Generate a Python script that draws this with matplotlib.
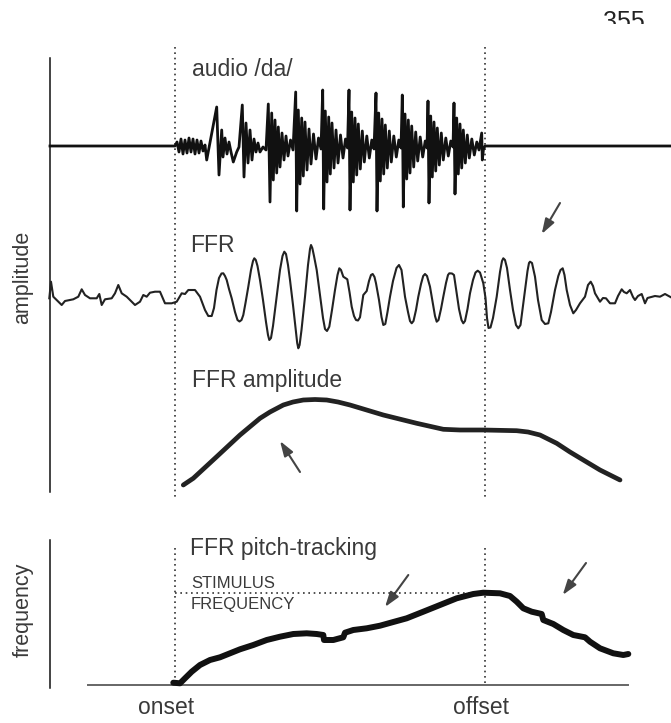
import matplotlib
matplotlib.use("Agg")
import matplotlib.pyplot as plt

plt.rcParams['font.family'] = ['Liberation Sans', 'DejaVu Sans']

# time in samples from stimulus onset, amplitudes in arbitrary units
onset, offset = 0, 310
t_min, t_max = -175, 496

audio_t = [-125, 0, 2, 4, 6, 8, 10, 12, 14, 16, 18, 20, 22, 24, 26, 28, 30, 31.7,
           41.7, 44, 46.7, 48, 50, 52, 54, 56, 58.3, 61.7, 64,
           67.3, 69, 71, 73, 75, 77, 79, 81, 83, 85, 88, 91,
           93.3, 95, 96.7, 98.3, 100, 101.7, 103.3, 105, 107, 109, 111, 113, 115.5, 118,
           120.7, 121.7, 123.3, 125, 126.7, 128.3, 130, 132, 134, 136, 138.5, 141, 143.5, 146,
           147.7, 148.7, 150.3, 152, 153.7, 155.3, 157, 159, 161, 163, 165.5, 168, 170.5, 172.5,
           174, 175, 176.7, 178.3, 180, 181.7, 183.3, 185.3, 187.3, 189.3, 191.8, 194.3, 196.8, 199,
           201, 202, 203.7, 205.3, 207, 208.7, 210.3, 212.3, 214.3, 216.3, 218.8, 221.3, 223.8, 226,
           227.3, 228.3, 230, 231.7, 233.3, 235, 236.7, 238.7, 240.7, 242.7, 245.2, 247.7, 250.2, 252,
           253, 254, 255.7, 257.3, 259, 260.7, 262.3, 264.3, 266.3, 268.3, 270.8, 273.3, 275.8, 278,
           279, 280, 281.7, 283.3, 285, 286.7, 288.3, 290.3, 292.3, 294.3, 296.8, 299.3, 301.8, 304,
           306.7, 307.3, 308.5, 310, 496]
audio_a = [0, 0, 4, -6, 7, -8, 6, -7, 8, -6, 7, -8, 6, -7, 5, -5, 1, -14,
           39, -29, 16, -11, 8, -8, 4, -6, -16, -6, -1,
           41, -31, 23, -17, 16, -14, 7, -6, 3, -6, -1, -4,
           42, -56, 33, -34, 26, -27, 19, -21, 13, -14, 10, -10, 6, -4,
           54, -65, 36, -38, 28, -30, 24, -24, 17, -18, 12, -13, 8, -3,
           56, -63, 35, -36, 29, -28, 23, -22, 16, -17, 11, -12, 7, -2,
           56, -64, 34, -36, 28, -29, 22, -23, 15, -16, 10, -12, 6, -3,
           53, -65, 33, -35, 27, -28, 21, -22, 15, -16, 10, -11, 6, -2,
           51, -61, 32, -33, 26, -27, 20, -21, 14, -15, 9, -11, 5, -2,
           45, -57, 30, -31, 24, -25, 18, -19, 13, -14, 8, -10, 5, -1,
           43, -48, 28, -28, 22, -22, 16, -17, 11, -12, 7, -9, 4, -4,
           13, -14, -3, 0, 0]

ffr_t = [-125.7, -124, -121.7, -118.3, -113.3, -110, -101.7, -96.7, -93.3, -90, -85, -78.3,
         -75.7, -73.3, -70, -63.3, -60, -56.7, -53.3, -48.3, -43.3, -40, -35, -31.7, -28.3,
         -25, -20, -15, -10, -3.3, 1.7, 6.7, 10, 13.3, 20, 25, 30, 33.3, 36.7,
         39, 41.5, 44, 46.5, 48.3, 50, 51.7, 54, 56.7, 60, 62.5, 64.5, 66.5, 68.3, 70.5,
         73.3, 76, 78, 79.3, 80.8, 82.5, 85, 88, 91, 93, 94.3, 96, 98, 101.7, 105, 107.5,
         109.3, 111, 113, 115, 118, 120.5, 122.2, 123.3, 124.6, 126.5, 130, 133, 135, 136,
         137.3, 139, 141.7, 145, 148, 150, 152, 154.3, 157, 160, 162.5, 164.3, 166, 168.3,
         172.3, 174.5, 176.7, 179, 181, 183, 185, 188.3, 191.7, 194, 196, 197.7, 199.5, 201,
         204, 206.5, 208.3, 210.3, 212.5, 215, 218, 221.5, 224, 226.5, 230, 233, 235, 236.7,
         238.5, 241, 243.3, 246, 248.2, 250, 252, 255, 258, 260, 261.7, 263.5, 266, 268.3,
         271, 273, 274.3, 277, 279, 281.7, 284, 286.5, 288.3, 290, 292.5, 295, 298, 300.5,
         302.7, 305, 308.3, 310.5, 312, 313.5, 315.5, 318, 321.7, 325, 327, 328.3, 330, 332,
         335, 338, 341, 343.3, 345.5, 348, 350, 352.5, 354, 355, 357, 360, 363, 366.7, 370,
         373.3, 376, 380, 383.3, 385.5, 387.7, 389.5, 391.7, 395, 398.3, 401, 405, 410, 413,
         415.7, 418, 420, 425, 428, 431, 435, 440, 443, 446.7, 449, 451.7, 455, 458, 460,
         463, 466.7, 470, 472.5, 475, 480, 485, 490, 496]
ffr_a = [-0.3, 16.3, 1.3, -2, -7, -3, -1.3, 1.3, 8.7, 3, -0.3, -0.3,
         4, -7, -1.3, -0.3, 4.7, 13, 4.7, 1.3, -3.7, -7, -3.7, 3, 1.3,
         5.3, 6.3, 6.3, -5.3, -5.3, -3.7, 4.7, 4, 8, 8, 1.3, -12, -18, -18,
         -10, 8, 20, 24.5, 24.7, 22, 18, 9, -0.3, -14, -22, -23.5, -22, -17, -5,
         11.3, 28, 37, 39.7, 38, 32, 18, -2, -24, -37, -42, -40, -28, 1.3, 28, 42,
         46.3, 44, 33, 18, -7, -30, -45, -50.3, -47, -32, 1.3, 33, 49, 53,
         50, 42, 28, 3, -20, -31, -33, -28.7, -12, 8, 23, 29.7, 28, 21.3,
         18.7, 6, -8.7, -18, -22, -22.5, -19.3, 3, 7, 17, 23, 24, 21, 14.7,
         -2, -19, -27, -26, -14, 1.3, 17, 30, 33, 28, 1.3, -14, -23, -25.3,
         -23, -12, 1.3, 14, 22, 24, 22, 11.3, -6, -18, -23.7, -22, -11, 1.3,
         15, 23, 24.7, 24.5, 23, 4.7, -11, -22, -25.3, -23, -11, 4.7, 18, 25.5,
         27.3, 25.5, 14.7, 0, -20, -30, -29.5, -20, 1.3, 26, 37, 39.7, 38, 30,
         8, -12, -27, -30.3, -27, -8, 8, 27, 35, 36.3, 35, 21.3, -2, -22, -26,
         -25.3, -14, 8, 22, 28, 29.7, 23, 8, -7, -15.3, -12, -5.3, 1.3, 13,
         16.3, 12, 4.7, -3.7, 0, -0.3, -5.3, -5.3, 2, 8.7, 6, 4.7, 8, 1, -2,
         2, 4, -5.3, 0, 0.7, 2, 1.3, 4, 0.7]

amp_t = [8.3, 18.3, 41.7, 65, 85, 95, 108.3, 118, 128.3, 140, 151.7, 163, 175, 208.3,
         241.7, 268.3, 285, 308.3, 341.7, 353, 365, 381.7, 395, 408.3, 425, 445]
amp_a = [15, 21.7, 43.3, 65, 81.7, 88, 95, 98, 100, 100.5, 100, 98, 95, 85,
         76.7, 70.7, 70, 70, 69.3, 68, 65, 56.7, 48, 40, 30, 20]

pitch_t = [-1.7, 5, 10, 16.7, 25, 35, 45, 55, 65, 78.3, 91.7, 105, 118.3, 131.7, 141.7,
           148.3, 149, 158.3, 168.3, 170, 178.3, 191.7, 205, 218.3, 231.7, 248.3, 265,
           281.7, 298.3, 308.3, 325, 335, 341.7, 348.3, 356.7, 366.7, 368.3, 378.3, 388.3,
           398.3, 410, 415, 425, 438.3, 448.3, 453.3]
pitch_f = [2.3, 1.7, 6.7, 13.3, 20, 25, 27.7, 31.7, 35.7, 40, 45, 48.3, 51, 51.7, 51,
           50, 45, 45, 47.7, 52.3, 55, 56.7, 59.3, 63, 66.7, 73.3, 80,
           86.7, 91, 92.3, 91.7, 89, 83.3, 76.7, 73.3, 71, 65, 61, 55,
           50, 47.7, 43.3, 36.7, 31.7, 30, 31]
stim_freq = 92

W, H = 671, 723
fig = plt.figure(figsize=(W / 100, H / 100), dpi=100)

# overlay in (time, pixel-row) for frame lines, markers and labels
bg = fig.add_axes([0, 0, 1, 1])
bg.set_xlim(t_min, t_max)
bg.set_ylim(H, 0)
bg.axis('off')


def trace_axes(top, bottom, base):
    ax = fig.add_axes([0, 1 - bottom / H, 1, (bottom - top) / H])
    ax.set_xlim(t_min, t_max)
    ax.set_ylim(base - bottom, base - top)
    ax.axis('off')
    return ax


dot = dict(color='#333333', lw=1.2, linestyle=(0, (1, 2.2)))
for t in (onset, offset):
    bg.plot([t, t], [47, 497], **dot)
    bg.plot([t, t], [548, 686], **dot)

bg.plot([-125, -125], [58, 492], color='#111111', lw=1.1)
bg.plot([-125, -125], [540, 688], color='#111111', lw=1.1)

ax1 = trace_axes(40, 230, 146)
ax1.plot(audio_t, audio_a, color='#111111', lw=2.0, solid_joinstyle='round')

ax2 = trace_axes(230, 370, 298)
ax2.plot(ffr_t, ffr_a, color='#222222', lw=1.5)

ax3 = trace_axes(370, 510, 500)
ax3.plot(amp_t, amp_a, color='#222222', lw=3.4, solid_capstyle='round')

ax4 = trace_axes(530, 700, 685)
ax4.plot([-87, 453], [0, 0], color='#666666', lw=1.4)
ax4.plot([onset, offset], [stim_freq, stim_freq], **dot)
ax4.plot(pitch_t, pitch_f, color='#111111', lw=4.3, solid_capstyle='round',
         solid_joinstyle='round')

txt = dict(color='#3a3a3a', fontsize=16.5, va='center', ha='left')
bg.text(17, 70, 'audio /da/', **txt)
bg.text(15, 246, 'FFR', **txt)
bg.text(17, 381, 'FFR amplitude', **txt)
bg.text(15, 549, 'FFR pitch-tracking', **txt)
bg.text(16, 583, 'STIMULUS', color='#3a3a3a', fontsize=12, va='center')
bg.text(16, 604, 'FREQUENCY', color='#3a3a3a', fontsize=12, va='center')
bg.text(-152, 277, 'amplitude', rotation=90, color='#3a3a3a', fontsize=15.5,
        ha='center', va='center')
bg.text(-152, 610, 'frequency', rotation=90, color='#3a3a3a', fontsize=15.5,
        ha='center', va='center')
bg.text(-9, 707, 'onset', color='#3a3a3a', fontsize=16.5, ha='center', va='center')
bg.text(306, 707, 'offset', color='#3a3a3a', fontsize=16.5, ha='center', va='center')

arrow = dict(arrowstyle='-|>,head_length=0.6,head_width=0.2', color='#444444',
             lw=1.5, mutation_scale=15, shrinkA=0, shrinkB=0)
for tail, tip in [((385, 203), (366.7, 234)), ((125, 472), (105, 441)),
                  ((233.3, 575), (210, 607)), ((411, 563), (387.7, 595))]:
    bg.annotate('', xy=tip, xytext=tail, arrowprops=arrow)

# page number cut off at the top edge
pg = fig.add_axes([590 / W, 1 - 23.5 / H, 81 / W, 23.5 / H])
pg.axis('off')
num = pg.text(0.16, 1 - 28.6 / 23.5, '355', transform=pg.transAxes, fontsize=18,
              color='#222222', va='baseline', ha='left')
num.set_clip_box(pg.bbox)
num.set_clip_on(True)

fig.savefig('out.png', dpi=100)
